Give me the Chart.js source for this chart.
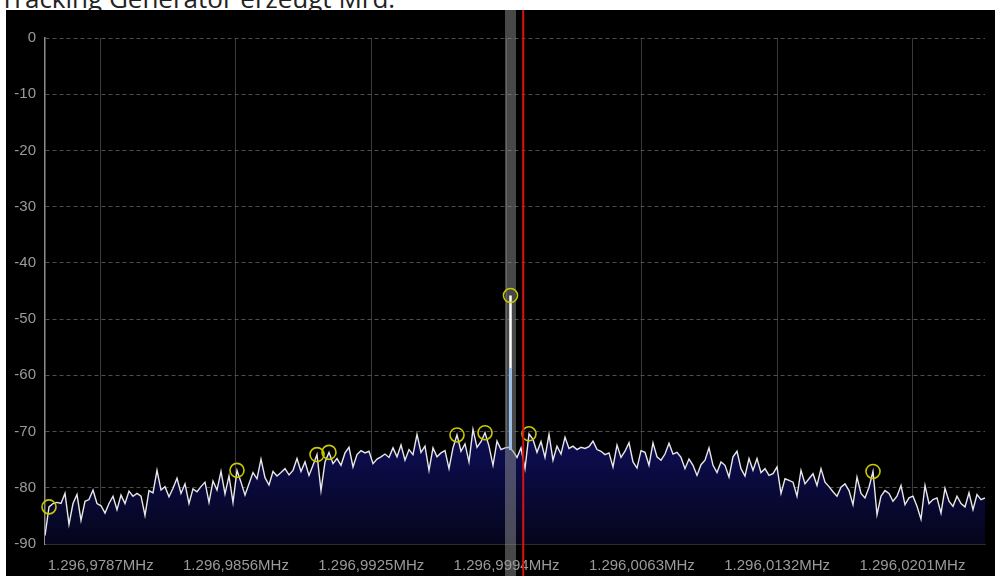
<!DOCTYPE html>
<html><head><meta charset="utf-8">
<script src="https://cdn.jsdelivr.net/npm/chart.js@4.4.1/dist/chart.umd.min.js"></script>
<style>
html,body{margin:0;padding:0;background:#fff;width:995px;height:576px;overflow:hidden;}
#title{position:absolute;left:0;top:-15px;font-family:"Open Sans",sans-serif;font-size:26px;line-height:26px;color:#222;white-space:nowrap;z-index:0}
#wrap{position:absolute;left:6px;top:10px;width:989px;height:566px;background:#000;z-index:1}
</style></head><body>
<div id="title">Tracking Generator erzeugt Mrd.</div>
<div id="wrap"><canvas id="c" width="989" height="566"></canvas></div>
<script>
// ---- data ----
const freqMin = 1296.97586;          // MHz, left edge of span
const freqMax = 1297.02380;          // MHz, right edge of span
const binStart = 1296.97586;         // first trace bin (MHz)
const binStep = 0.000204;            // MHz per trace bin
const tickFreqs = [1296.9787, 1296.9856, 1296.9925, 1296.9994, 1297.0063, 1297.0132, 1297.0201];
const tickLabels = ["1.296,9787MHz","1.296,9856MHz","1.296,9925MHz","1.296,9994MHz","1.296,0063MHz","1.296,0132MHz","1.296,0201MHz"];
const levelTicks = [0,-10,-20,-30,-40,-50,-60,-70,-80,-90];
const traceLevels = [
-88.5,-83.4,-82.8,-82.6,-82.8,-81.0,-86.5,-82.8,-81.2,-85.8,
-82.4,-82.1,-80.4,-82.8,-83.2,-84.5,-82.8,-81.5,-83.9,-81.3,
-82.8,-80.6,-81.5,-81.0,-81.5,-84.9,-80.5,-80.9,-76.9,-80.4,
-79.8,-81.6,-80.1,-78.3,-81.0,-79.3,-82.8,-80.2,-80.7,-79.8,
-79.0,-82.6,-78.8,-80.4,-77.1,-81.1,-77.9,-82.6,-76.9,-79.0,
-81.3,-79.3,-77.3,-78.4,-74.9,-78.2,-79.5,-77.1,-77.9,-77.3,
-76.6,-77.7,-76.9,-74.8,-77.1,-75.4,-77.8,-76.0,-74.1,-80.5,
-75.4,-73.7,-75.7,-74.8,-76.0,-73.8,-72.8,-76.3,-74.1,-73.4,
-73.8,-73.5,-75.7,-74.9,-74.5,-74.0,-74.6,-72.9,-74.5,-72.4,
-75.1,-73.2,-74.1,-70.5,-73.7,-72.6,-76.9,-72.9,-74.5,-73.8,
-73.4,-76.6,-72.9,-70.6,-73.5,-72.2,-75.4,-69.6,-72.8,-71.8,
-70.2,-72.6,-76.0,-71.7,-73.2,-72.9,-72.8,-73.5,-74.6,-72.9,
-76.6,-70.4,-71.4,-73.7,-71.8,-74.6,-70.5,-75.1,-72.6,-74.0,
-71.0,-73.0,-72.6,-73.2,-72.8,-73.0,-72.7,-71.7,-73.2,-73.5,
-74.1,-73.8,-76.3,-72.4,-74.6,-73.5,-72.0,-75.4,-76.5,-73.4,
-73.7,-76.0,-72.0,-74.5,-75.1,-74.0,-72.1,-74.0,-73.7,-74.6,
-76.6,-74.9,-76.0,-77.8,-75.9,-75.1,-72.9,-76.0,-77.3,-75.4,
-76.0,-78.1,-74.5,-73.5,-76.6,-77.9,-74.8,-76.9,-74.8,-77.3,
-76.6,-77.8,-77.5,-76.3,-81.0,-78.4,-78.7,-79.0,-81.5,-76.9,
-79.3,-78.4,-77.5,-79.6,-76.6,-79.0,-79.8,-80.7,-81.5,-79.9,
-79.3,-80.5,-83.0,-78.1,-81.0,-81.8,-79.9,-77.1,-84.8,-81.5,
-80.5,-81.0,-82.4,-81.5,-79.6,-83.0,-81.8,-81.5,-83.3,-85.6,
-79.6,-82.8,-82.1,-81.8,-84.5,-80.1,-82.4,-83.3,-81.5,-82.8,
-83.4,-80.9,-83.9,-81.2,-82.1,-81.8
];
const markerBins = [1, 48, 68, 71, 103, 110, 121, 207];
const carrierFreq = 1296.99960;
const carrierPeak = -45.8;
const carrierMid = -58.7;
const carrierBase = -73.3;
const cursorFreq = 1297.00025;

// ---- chart ----
const tracePts = traceLevels.map((v, i) => ({x: binStart + i * binStep, y: v}));
const markerPts = markerBins.map(i => tracePts[i]).concat([{x: carrierFreq, y: carrierPeak}]);

const overlay = {
  id: 'overlay',
  afterDatasetDraw(chart, args) {
    if (args.index !== 0) return;
    const ctx = chart.ctx;
    const x = chart.scales.x.getPixelForValue(carrierFreq);
    ctx.save();
    ctx.fillStyle = 'rgba(150,150,150,0.48)';
    ctx.fillRect(x - 5.5, 0, 11, chart.height);
    ctx.restore();
  },
  afterDraw(chart) {
    const ctx = chart.ctx;
    const x = chart.scales.x.getPixelForValue(cursorFreq);
    ctx.save();
    ctx.strokeStyle = '#dd1111';
    ctx.lineWidth = 2;
    ctx.beginPath();
    ctx.moveTo(x, 0);
    ctx.lineTo(x, chart.height);
    ctx.stroke();
    ctx.restore();
  }
};

const labelFont = {family: '"Liberation Sans", Arial, sans-serif', size: 15};

new Chart(document.getElementById('c').getContext('2d'), {
  type: 'line',
  data: {
    datasets: [
      {
        data: tracePts, borderColor: '#e8e8e8', borderWidth: 1.4, pointRadius: 0, tension: 0,
        fill: 'start', order: 3,
        backgroundColor: (c) => {
          const ch = c.chart, a = ch.chartArea;
          if (!a) return '#0b0b48';
          const g = ch.ctx.createLinearGradient(0, ch.scales.y.getPixelForValue(-70), 0, a.bottom);
          g.addColorStop(0, '#0e0e58');
          g.addColorStop(1, '#05051c');
          return g;
        }
      },
      {
        data: [{x: carrierFreq, y: carrierMid}, {x: carrierFreq, y: carrierBase}],
        borderColor: '#9cc0ec', borderWidth: 3, pointRadius: 0, order: 2
      },
      {
        data: [{x: carrierFreq, y: carrierPeak}, {x: carrierFreq, y: carrierMid}],
        borderColor: '#ffffff', borderWidth: 2.5, pointRadius: 0, order: 1
      },
      {
        data: markerPts, showLine: false, pointRadius: 7, pointHoverRadius: 7,
        pointBorderColor: '#c9c900', pointBorderWidth: 1.6, pointBackgroundColor: 'rgba(0,0,0,0)',
        clip: false, order: 0
      }
    ]
  },
  options: {
    responsive: false, animation: false, devicePixelRatio: 1,
    layout: {padding: {top: 28, right: 10, left: 0, bottom: 0}},
    plugins: {legend: {display: false}, tooltip: {enabled: false}},
    scales: {
      x: {
        type: 'linear', min: freqMin, max: freqMax, z: 1,
        afterBuildTicks: s => { s.ticks = tickFreqs.map(v => ({value: v})); },
        afterFit: s => { s.height = 32; },
        ticks: {callback: (v, i) => tickLabels[i], color: '#9a9a9a', font: labelFont, padding: 13, maxRotation: 0, autoSkip: false},
        grid: {color: '#3a3a3a', drawTicks: false, lineWidth: 1},
        border: {color: '#2c2c2c', width: 1}
      },
      y: {
        min: -90, max: 0, z: 1,
        afterBuildTicks: s => { s.ticks = levelTicks.map(v => ({value: v})); },
        afterFit: s => { s.width = 39; },
        ticks: {color: '#9a9a9a', font: labelFont, padding: 9},
        grid: {color: '#4e4e4e', drawTicks: false, lineWidth: 1},
        border: {color: '#8c8c8c', width: 1.5, dash: [4, 3]}
      }
    }
  },
  plugins: [overlay]
});
</script>
</body></html>
